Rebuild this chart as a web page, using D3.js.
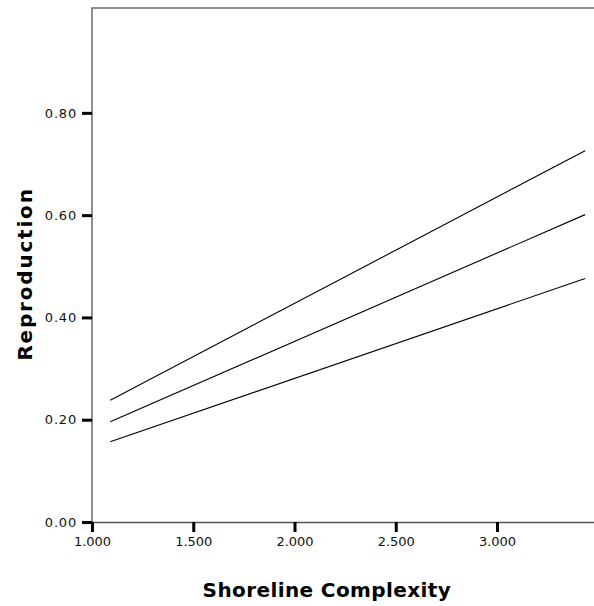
<!DOCTYPE html>
<html>
<head>
<meta charset="utf-8">
<script src="https://cdn.jsdelivr.net/npm/d3@7"></script>
<style>
  html, body { margin: 0; padding: 0; background: #fff; }
  #viz { width: 594px; height: 606px; }
</style>
</head>
<body>
<div id="viz"></div>
<script>
// Datos
const xRange = [1.09, 3.435];             // extremo de las rectas
const upperLine = [0.238, 0.726];
const fitLine   = [0.196, 0.601];
const lowerLine = [0.157, 0.476];
const xTicks = [1.0, 1.5, 2.0, 2.5, 3.0];
const yTicks = [0.0, 0.2, 0.4, 0.6, 0.8];
const xDomain = [1.0, 3.479];
const yDomain = [0.0, 1.005];

(function(){
  const W = 594, H = 606;
  const margin = { top: 8, right: 0, bottom: 84, left: 92 };
  const width  = W - margin.left - margin.right;
  const height = H - margin.top - margin.bottom;
  const font = "DejaVu Sans, Verdana, sans-serif";

  const svg = d3.select("#viz").append("svg")
    .attr("width", W).attr("height", H);
  const g = svg.append("g")
    .attr("transform", `translate(${margin.left},${margin.top})`);

  const x = d3.scaleLinear().domain(xDomain).range([0, width]);
  const y = d3.scaleLinear().domain(yDomain).range([height, 0]);

  // marco superior e izquierdo
  g.append("path")
    .attr("d", `M0,${height}V0H${width}`)
    .attr("fill", "none")
    .attr("stroke", "#6a6a6a")
    .attr("stroke-width", 1.5);

  // eje X
  const xAxis = g.append("g")
    .attr("transform", `translate(0,${height})`)
    .call(d3.axisBottom(x).tickValues(xTicks).tickFormat(d3.format(".3f"))
      .tickSize(10).tickSizeOuter(0));
  xAxis.select(".domain").attr("stroke", "#555").attr("stroke-width", 1.5);
  xAxis.selectAll(".tick line").attr("stroke", "#000").attr("stroke-width", 3);
  xAxis.selectAll(".tick text")
    .attr("font-family", font)
    .attr("font-size", 13).attr("fill", "#111").attr("dy", "0.85em");

  // eje Y
  const yAxis = g.append("g")
    .call(d3.axisLeft(y).tickValues(yTicks).tickFormat(d3.format(".2f"))
      .tickSize(10).tickSizeOuter(0));
  yAxis.select(".domain").remove();
  yAxis.selectAll(".tick line").attr("stroke", "#000").attr("stroke-width", 3);
  yAxis.selectAll(".tick text")
    .attr("font-family", font)
    .attr("font-size", 13).attr("fill", "#111").attr("x", -15)
    .attr("letter-spacing", 0.8);

  // rectas
  const line = d3.line().x(d => x(d[0])).y(d => y(d[1]));
  [upperLine, fitLine, lowerLine].forEach(s => {
    g.append("path")
      .datum(xRange.map((xv, i) => [xv, s[i]]))
      .attr("fill", "none")
      .attr("stroke", "#000")
      .attr("stroke-width", 1.1)
      .attr("d", line);
  });

  // títulos
  svg.append("text")
    .attr("x", margin.left + x(2.16))
    .attr("y", 597)
    .attr("text-anchor", "middle")
    .attr("font-family", font)
    .attr("font-weight", "bold")
    .attr("font-size", 20)
    .attr("letter-spacing", 0.4)
    .text("Shoreline Complexity");

  svg.append("text")
    .attr("transform", `translate(32,${margin.top + y(0.485)}) rotate(-90)`)
    .attr("text-anchor", "middle")
    .attr("font-family", font)
    .attr("font-weight", "bold")
    .attr("font-size", 20)
    .attr("letter-spacing", 1.8)
    .text("Reproduction");
})();
</script>
</body>
</html>
